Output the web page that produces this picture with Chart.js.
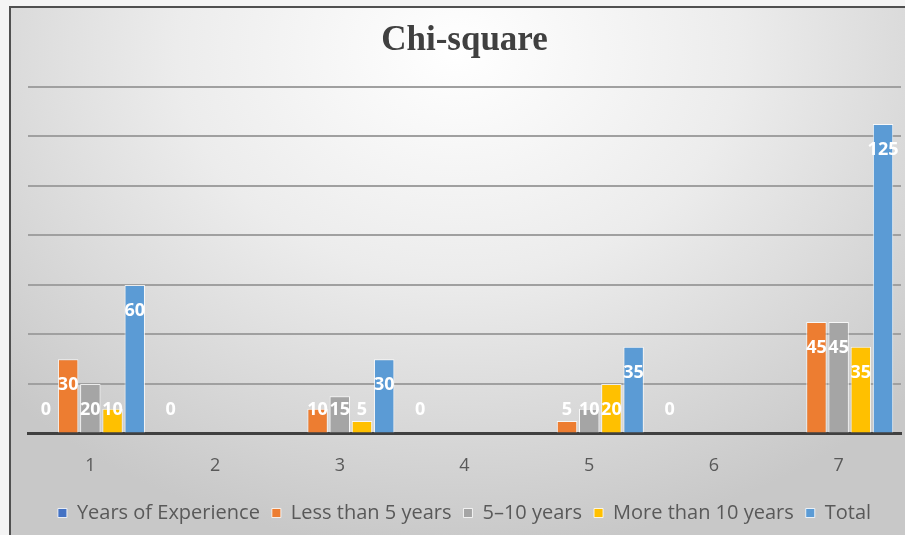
<!DOCTYPE html>
<html>
<head>
<meta charset="utf-8">
<script src="https://cdn.jsdelivr.net/npm/chart.js@4.4.0/dist/chart.umd.min.js"></script>
<style>
  html, body { margin: 0; padding: 0; background: #f4f4f4; }
  #wrap {
    position: absolute; left: 9px; top: 6px; width: 894px; height: 527px;
    border-left: 2px solid #505050; border-top: 2px solid #505050;
    background: radial-gradient(ellipse 70% 95% at 50% 8%, #ffffff 0%, #ececec 45%, #d2d2d2 85%, #c8c8c8 100%);
  }
  canvas { display: block; }
</style>
</head>
<body>
<div id="wrap"><canvas id="chart" width="894" height="527"></canvas></div>
<script>
const categories = ["1", "2", "3", "4", "5", "6", "7"];
const yearsOfExperience = [0, 0, null, 0, null, 0, null];
const lessThan5 = [30, null, 10, null, 5, null, 45];
const fiveToTen = [20, null, 15, null, 10, null, 45];
const moreThan10 = [10, null, 5, null, 20, null, 35];
const totals = [60, null, 30, null, 35, null, 125];

const seriesNames = ["Years of Experience", "Less than 5 years", "5\u201310 years", "More than 10 years", "Total"];
const seriesColors = ["#4472C4", "#ED7D31", "#A5A5A5", "#FFC000", "#5B9BD5"];
const seriesData = [yearsOfExperience, lessThan5, fiveToTen, moreThan10, totals];

// labels near top of bar, kept above the baseline for short bars
const barLabels = {
  id: "barLabels",
  afterDatasetsDraw(chart) {
    const ctx = chart.ctx;
    const base = chart.scales.y.getPixelForValue(0);
    ctx.save();
    ctx.fillStyle = "#ffffff";
    ctx.font = "bold 18px 'Open Sans', sans-serif";
    ctx.textAlign = "center";
    ctx.textBaseline = "middle";
    chart.data.datasets.forEach((ds, i) => {
      chart.getDatasetMeta(i).data.forEach((bar, j) => {
        const v = ds.data[j];
        if (v === null || v === undefined) return;
        const y = Math.min(bar.y + 26, base - 24);
        ctx.fillText(String(v), bar.x, y);
      });
    });
    ctx.restore();
  }
};

new Chart(document.getElementById("chart"), {
  type: "bar",
  data: {
    labels: categories,
    datasets: seriesData.map((d, i) => ({
      label: seriesNames[i],
      data: d,
      backgroundColor: seriesColors[i],
      borderColor: "rgba(255,255,255,0.8)",
      borderWidth: 1,
      categoryPercentage: 0.89,
      barPercentage: 0.92
    }))
  },
  options: {
    responsive: false,
    animation: false,
    layout: { padding: { left: 17, right: 4, top: 4, bottom: 2 } },
    plugins: {
      title: {
        display: true,
        text: "Chi-square",
        color: "#404040",
        font: { family: "'Liberation Serif', serif", size: 35, weight: "bold" },
        padding: { top: 8, bottom: 25 }
      },
      legend: {
        position: "bottom",
        labels: {
          color: "#595959",
          font: { family: "'Open Sans', sans-serif", size: 20 },
          boxWidth: 9,
          boxHeight: 9,
          padding: 12
        }
      },
      tooltip: { enabled: false }
    },
    scales: {
      x: {
        grid: { display: false },
        border: { color: "#404040", width: 3 },
        ticks: { color: "#595959", font: { family: "'Open Sans', sans-serif", size: 18 }, padding: 14 }
      },
      y: {
        min: 0,
        max: 140,
        ticks: { stepSize: 20, display: false },
        grid: { color: "#a0a0a0", lineWidth: 2, drawTicks: false },
        border: { display: false }
      }
    }
  },
  plugins: [barLabels]
});
</script>
</body>
</html>
